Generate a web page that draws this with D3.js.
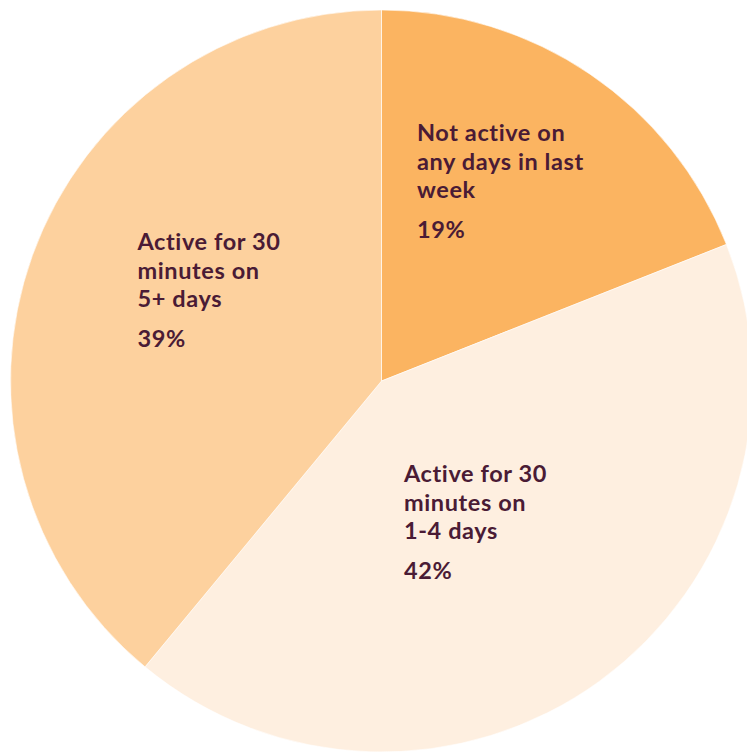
<!DOCTYPE html>
<html>
<head>
<meta charset="utf-8">
<script src="https://cdn.jsdelivr.net/npm/d3@7"></script>
<style>
  html, body { margin: 0; padding: 0; background: #ffffff; }
  svg { display: block; }
  text { font-family: Lato, "Open Sans", sans-serif; font-weight: 700; letter-spacing: 0.6px; }
</style>
</head>
<body>
<svg id="chart" width="747" height="753"></svg>
<script>
// Share of people by days active for 30 minutes in the last week
const categories = [
  "Not active on any days in last week",
  "Active for 30 minutes on 1-4 days",
  "Active for 30 minutes on 5+ days"
];
const labelLines = [
  ["Not active on", "any days in last", "week"],
  ["Active for 30", "minutes on", "1-4 days"],
  ["Active for 30", "minutes on", "5+ days"]
];
const values = [19, 42, 39];
const colors = ["#fbb461", "#feefe0", "#fdd19e"];

const W = 747, H = 753;
const cx = 381.5, cy = 381, R = 371;

const svg = d3.select("#chart");
const g = svg.append("g").attr("transform", `translate(${cx},${cy})`);

const data = categories.map((c, i) => ({ name: c, value: values[i], lines: labelLines[i], color: colors[i] }));

const pie = d3.pie().value(d => d.value).sort(null);
const arc = d3.arc().innerRadius(0).outerRadius(R);
const arcs = pie(data);

g.selectAll("path.slice")
  .data(arcs)
  .join("path")
  .attr("class", "slice")
  .attr("d", arc)
  .attr("fill", d => d.data.color)
  .attr("stroke", "#ffffff")
  .attr("stroke-width", 0.6);

// Label block placement: left edge and first baseline, relative to the pie centre
const labelPos = [
  { dx: 35.5, dy: -240 },
  { dx: 22.5, dy: 101 },
  { dx: -244, dy: -131 }
];
const lineStep = 28.6;
const pctGap = 40;
const fontSize = 23.5;

arcs.forEach((a, i) => {
  const p = labelPos[i];
  const t = g.append("text")
    .attr("fill", "#4a1b35")
    .attr("font-size", fontSize);
  a.data.lines.forEach((ln, j) => {
    t.append("tspan")
      .attr("x", p.dx)
      .attr("y", p.dy + j * lineStep)
      .text(ln);
  });
  t.append("tspan")
    .attr("x", p.dx)
    .attr("y", p.dy + (a.data.lines.length - 1) * lineStep + pctGap)
    .text(`${a.data.value}%`);
});
</script>
</body>
</html>
